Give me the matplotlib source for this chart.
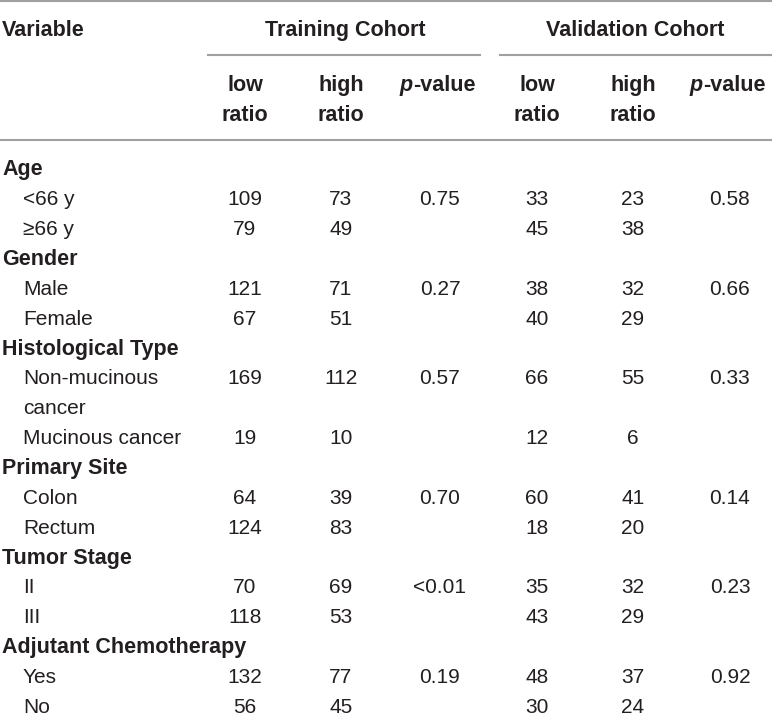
import matplotlib
matplotlib.use("Agg")
import matplotlib.pyplot as plt

# table content
sections = ["Age", "Gender", "Histological Type", "Primary Site", "Tumor Stage", "Adjutant Chemotherapy"]
sub_labels = [
    ["<66 y", "\u226566 y"],
    ["Male", "Female"],
    ["Non-mucinous\ncancer", "Mucinous cancer"],
    ["Colon", "Rectum"],
    ["II", "III"],
    ["Yes", "No"],
]
train_low = [[109, 79], [121, 67], [169, 19], [64, 124], [70, 118], [132, 56]]
train_high = [[73, 49], [71, 51], [112, 10], [39, 83], [69, 53], [77, 45]]
train_p = ["0.75", "0.27", "0.57", "0.70", "<0.01", "0.19"]
valid_low = [[33, 45], [38, 40], [66, 12], [60, 18], [35, 43], [48, 30]]
valid_high = [[23, 38], [32, 29], [55, 6], [41, 20], [32, 29], [37, 24]]
valid_p = ["0.58", "0.66", "0.33", "0.14", "0.23", "0.92"]

W, H = 772, 717
BOLD = ["Liberation Sans", "DejaVu Sans"]
BODY = ["Liberation Sans Narrow", "Liberation Sans", "DejaVu Sans"]
LINE = "#a0a0a0"
TXT = "#231f20"

fig = plt.figure(figsize=(W / 100, H / 100), dpi=100)
ax = fig.add_axes([0, 0, 1, 1])
ax.set_xlim(0, W)
ax.set_ylim(H, 0)
ax.axis("off")

col_x = [245, 341, 440, 537, 633, 730]
hsize = 15.5
bsize = 15
hd = dict(fontsize=hsize, fontweight="bold", family=BOLD, color=TXT, va="baseline")
bd = dict(fontsize=bsize, family=BODY, color=TXT, va="baseline")

# rules
ax.plot([0, W], [1, 1], color=LINE, lw=1.5)
ax.plot([208, 480], [55, 55], color=LINE, lw=1.5)
ax.plot([500, W], [55, 55], color=LINE, lw=1.5)
ax.plot([0, W], [140, 140], color=LINE, lw=1.5)

# header
ax.text(2, 36, "Variable", **hd)
ax.text(345, 36, "Training Cohort", ha="center", **hd)
ax.text(635, 36, "Validation Cohort", ha="center", **hd)
for x, top in zip(col_x, ["low", "high", None, "low", "high", None]):
    if top is None:
        split = x - 27
        ax.text(split, 91, "p", ha="right", fontstyle="italic", **hd)
        ax.text(split, 91, "-value", ha="left", **hd)
    else:
        ax.text(x, 91, top, ha="center", **hd)
        ax.text(x, 121, "ratio", ha="center", **hd)

# body
y = 175.5
step = 29.85
for s, name in enumerate(sections):
    ax.text(2, y, name, **hd)
    y += step
    for k in range(2):
        lines = sub_labels[s][k].split("\n")
        vals = [train_low[s][k], train_high[s][k], train_p[s] if k == 0 else "",
                valid_low[s][k], valid_high[s][k], valid_p[s] if k == 0 else ""]
        for j, ln in enumerate(lines):
            ax.text(23, y + j * step, ln, **bd)
        for x, v in zip(col_x, vals):
            ax.text(x, y, str(v), ha="center", **bd)
        y += step * len(lines)

fig.savefig("out.png", dpi=100, facecolor="white")
